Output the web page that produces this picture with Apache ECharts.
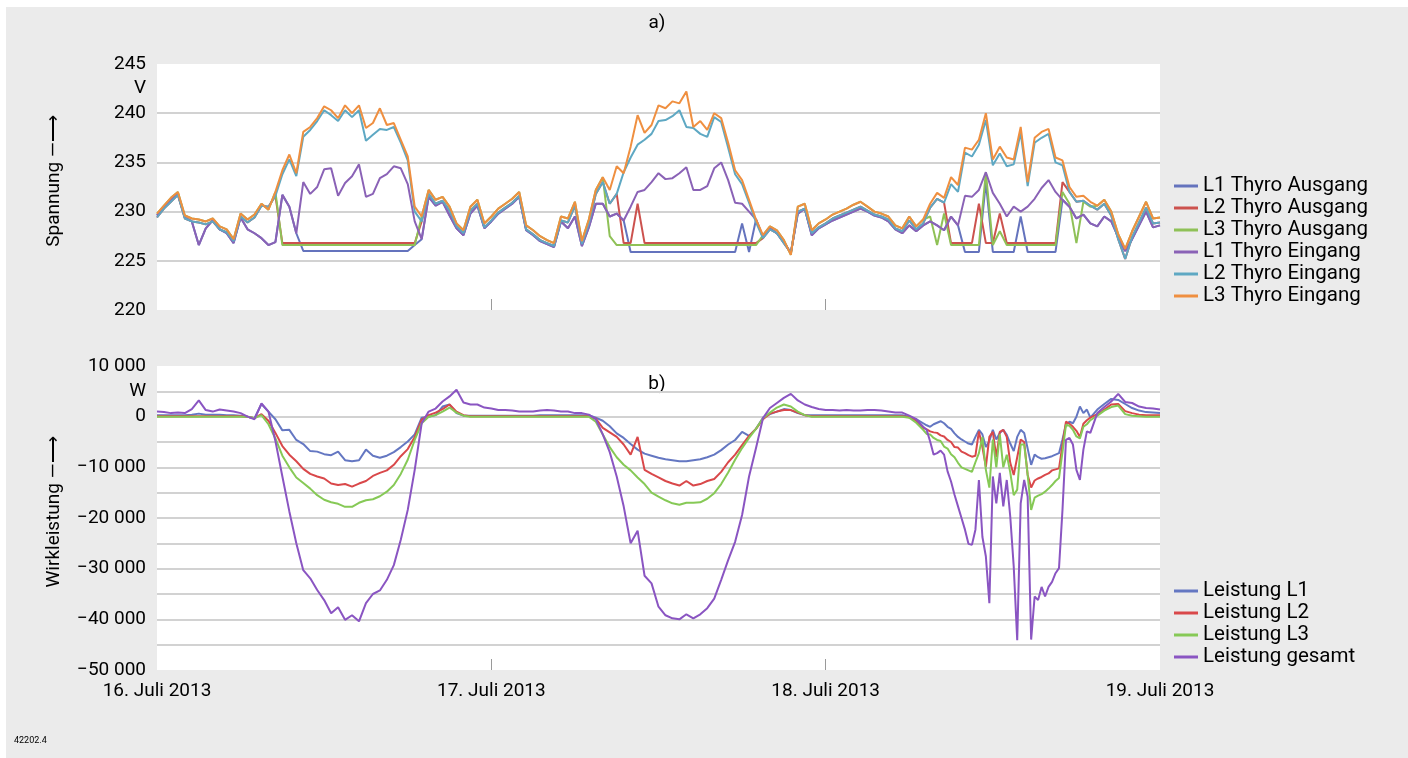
<!DOCTYPE html>
<html lang="de">
<head>
<meta charset="UTF-8">
<title>Spannung und Wirkleistung Thyro</title>
<script src="https://cdn.jsdelivr.net/npm/echarts@6/dist/echarts.min.js"></script>
<style>
  html, body { margin: 0; padding: 0; background: #fff; }
  #chart { position: absolute; left: 6px; top: 7px; width: 1402px; height: 751px; background: #ebebeb; }
</style>
</head>
<body>
<div id="chart"></div>
<script>
// time in hours since 16. Juli 2013 00:00
const dayLabels = ['16. Juli 2013', '17. Juli 2013', '18. Juli 2013', '19. Juli 2013'];

// ---- a) Spannung, every half hour ----
const tA = [
  0,0.5,1,1.5,2,2.5,3,3.5,4,4.5,5,5.5,6,6.5,7,7.5,8,8.5,9,9.5,10,10.5,11,11.5,12,12.5,13,13.5,14,14.5,15,15.5,16,16.5,17,17.5,18,18.5,19,19.5,20,20.5,21,21.5,22,22.5,23,23.5,
  24,24.5,25,25.5,26,26.5,27,27.5,28,28.5,29,29.5,30,30.5,31,31.5,32,32.5,33,33.5,34,34.5,35,35.5,36,36.5,37,37.5,38,38.5,39,39.5,40,40.5,41,41.5,42,42.5,43,43.5,44,44.5,45,45.5,46,46.5,47,47.5,
  48,48.5,49,49.5,50,50.5,51,51.5,52,52.5,53,53.5,54,54.5,55,55.5,56,56.5,57,57.5,58,58.5,59,59.5,60,60.5,61,61.5,62,62.5,63,63.5,64,64.5,65,65.5,66,66.5,67,67.5,68,68.5,69,69.5,70,70.5,71,71.5,72
];

const l1Aus = [
  229.6,230.4,231.2,231.8,229.4,229.0,226.6,228.3,229.1,228.2, 227.8,226.8,229.4,228.2,227.8,227.3,226.6,226.9,231.7,230.5, 227.8,226.0,226.0,226.0,226.0,226.0,226.0,226.0,226.0,226.0, 226.0,226.0,226.0,226.0,226.0,226.0,226.0,226.6,227.2,231.5, 230.6,231.0,229.6,228.3,227.6,229.8,230.6,228.3,
  229.0,229.8,230.3,230.8,231.5,228.1,227.6,227.0,226.7,226.4, 229.0,228.3,229.5,226.5,228.4,230.8,230.8,229.5,229.8,229.1, 225.9,225.9,225.9,225.9,225.9,225.9,225.9,225.9,225.9,225.9, 225.9,225.9,225.9,225.9,225.9,225.9,228.8,225.9,229.2,227.4, 228.3,227.8,226.9,225.8,229.8,230.3,227.6,228.3,
  228.7,229.1,229.4,229.7,230.0,230.3,230.0,229.6,229.4,229.0, 228.2,227.8,228.6,228.0,228.6,229.0,228.6,228.1,229.5,228.6, 225.9,225.9,225.9,233.0,225.9,225.9,225.9,225.9,229.5,225.9, 225.9,225.9,225.9,225.9,231.2,230.5,229.3,229.7,228.8,228.5, 229.5,229.0,227.4,226.0,227.2,228.6,230.0,228.4,228.6
];
const l2Aus = [
  229.4,230.3,231.0,231.7,229.3,229.0,228.9,228.7,229.0,228.2, 227.9,227.0,229.5,228.9,229.4,230.6,230.5,231.6,226.8,226.8, 226.8,226.8,226.8,226.8,226.8,226.8,226.8,226.8,226.8,226.8, 226.8,226.8,226.8,226.8,226.8,226.8,226.8,226.8,229.0,231.8, 230.8,231.1,230.1,228.5,227.8,230.1,230.8,228.4,
  229.1,229.9,230.4,230.9,231.6,228.2,227.7,227.1,226.8,226.5, 229.1,228.9,230.6,226.7,228.8,231.8,233.0,230.8,231.8,226.8, 226.8,230.8,226.8,226.8,226.8,226.8,226.8,226.8,226.8,226.8, 226.8,226.8,226.8,226.8,226.8,226.8,226.8,226.8,226.8,227.3, 228.2,227.8,226.8,225.8,230.0,230.3,227.8,228.4,
  228.8,229.3,229.6,229.9,230.2,230.5,230.1,229.7,229.5,229.2, 228.3,228.0,229.1,228.2,228.8,230.4,231.3,230.9,226.8,226.8, 226.8,226.8,230.8,226.8,226.8,229.8,226.8,226.8,226.8,226.8, 226.8,226.8,226.8,226.8,233.0,232.0,231.0,231.1,230.6,230.2, 230.8,229.6,227.2,225.2,227.4,228.9,230.4,228.8,228.9
];
const l3Aus = [
  229.8,230.6,231.4,232.0,229.6,229.3,229.2,229.0,229.3,228.5, 228.2,227.2,229.8,229.2,229.7,230.8,230.2,232.0,226.6,226.6, 226.6,226.6,226.6,226.6,226.6,226.6,226.6,226.6,226.6,226.6, 226.6,226.6,226.6,226.6,226.6,226.6,226.6,226.6,229.5,232.2, 231.2,231.5,230.5,228.8,228.1,230.5,231.2,228.8,
  229.5,230.3,230.8,231.3,232.0,228.6,228.1,227.5,227.1,226.8, 229.5,229.3,231.0,227.0,229.2,232.2,233.5,227.5,226.6,226.6, 226.6,226.6,226.6,226.6,226.6,226.6,226.6,226.6,226.6,226.6, 226.6,226.6,226.6,226.6,226.6,226.6,226.6,226.6,226.6,227.6, 228.5,228.1,227.1,225.6,230.5,230.8,228.1,228.8,
  229.2,229.7,230.0,230.3,230.7,231.0,230.5,230.0,229.8,229.5, 228.6,228.3,229.5,228.5,229.2,229.5,226.6,229.8,226.6,226.6, 226.6,226.6,226.6,234.0,226.6,228.0,226.6,226.6,226.6,226.6, 226.6,226.6,226.6,226.6,232.0,230.8,226.8,231.0,230.5,230.6, 231.2,230.0,227.7,226.2,228.0,229.5,231.0,229.3,229.4
];
const l1Ein = [
  229.6,230.4,231.2,231.8,229.4,229.0,226.6,228.3,229.1,228.2, 227.8,226.8,229.4,228.2,227.8,227.3,226.6,226.9,231.7,230.5, 227.8,233.0,231.8,232.5,234.3,234.4,231.6,232.9,233.6,234.8, 231.5,231.8,233.4,233.8,234.6,234.4,232.8,229.0,227.2,231.5, 230.6,231.0,229.6,228.3,227.6,229.8,230.6,228.3,
  229.0,229.8,230.3,230.8,231.5,228.1,227.6,227.0,226.7,226.4, 229.0,228.3,229.5,226.5,228.4,230.8,230.8,229.5,229.8,229.1, 230.5,232.0,232.2,233.0,233.9,233.3,233.4,233.9,234.5,232.2, 232.2,232.6,234.4,235.0,233.2,230.9,230.8,230.0,229.2,227.4, 228.3,227.8,226.9,225.8,229.8,230.3,227.6,228.3,
  228.7,229.1,229.4,229.7,230.0,230.3,230.0,229.6,229.4,229.0, 228.2,227.8,228.6,228.0,228.6,229.0,228.6,228.1,229.5,228.6, 231.6,231.5,232.2,234.0,231.9,230.8,229.5,230.5,230.0,230.5, 231.3,232.4,233.2,232.0,231.2,230.5,229.3,229.7,228.8,228.5, 229.5,229.0,227.4,226.0,227.2,228.6,230.0,228.4,228.6
];
const l2Ein = [
  229.4,230.3,231.0,231.7,229.3,229.0,228.9,228.7,229.0,228.2, 227.9,227.0,229.5,228.9,229.4,230.6,230.5,231.6,233.8,235.3, 233.6,237.6,238.3,239.2,240.3,239.8,239.2,240.3,239.6,240.3, 237.2,237.8,238.4,238.3,238.6,237.0,235.2,230.0,229.0,231.8, 230.8,231.1,230.1,228.5,227.8,230.1,230.8,228.4,
  229.1,229.9,230.4,230.9,231.6,228.2,227.7,227.1,226.8,226.5, 229.1,228.9,230.6,226.7,228.8,231.8,233.0,230.8,231.8,234.0, 235.5,236.8,237.3,237.9,239.2,239.3,239.7,240.3,238.6,238.5, 237.9,237.6,239.6,239.1,236.5,233.8,232.8,230.9,228.9,227.3, 228.2,227.8,226.8,225.8,230.0,230.3,227.8,228.4,
  228.8,229.3,229.6,229.9,230.2,230.5,230.1,229.7,229.5,229.2, 228.3,228.0,229.1,228.2,228.8,230.4,231.3,230.9,232.8,232.0, 236.0,235.6,236.8,239.3,234.7,235.9,234.6,234.8,238.0,232.6, 237.0,237.5,237.9,235.0,234.7,232.0,231.0,231.1,230.6,230.2, 230.8,229.6,227.2,225.2,227.4,228.9,230.4,228.8,228.9
];
const l3Ein = [
  229.8,230.6,231.4,232.0,229.6,229.3,229.2,229.0,229.3,228.5, 228.2,227.2,229.8,229.2,229.7,230.8,230.2,232.0,234.2,235.8, 233.9,238.1,238.6,239.5,240.7,240.3,239.5,240.8,240.0,240.8, 238.5,239.0,240.5,238.8,239.0,237.3,235.6,230.5,229.5,232.2, 231.2,231.5,230.5,228.8,228.1,230.5,231.2,228.8,
  229.5,230.3,230.8,231.3,232.0,228.6,228.1,227.5,227.1,226.8, 229.5,229.3,231.0,227.0,229.2,232.2,233.5,232.2,234.6,233.9, 236.6,239.8,238.0,238.8,240.8,240.5,241.2,241.0,242.2,238.6, 239.2,238.3,240.0,239.5,237.0,234.2,233.2,231.2,229.2,227.6, 228.5,228.1,227.1,225.6,230.5,230.8,228.1,228.8,
  229.2,229.7,230.0,230.3,230.7,231.0,230.5,230.0,229.8,229.5, 228.6,228.3,229.5,228.5,229.2,230.8,231.9,231.4,233.5,232.7, 236.5,236.3,237.3,240.0,235.3,236.6,235.5,235.3,238.6,233.0, 237.5,238.1,238.4,235.5,235.2,232.5,231.5,231.6,231.0,230.6, 231.2,230.0,227.7,226.2,228.0,229.5,231.0,229.3,229.4
];

// ---- b) Wirkleistung, half hour, quarter hour on 18. Juli daytime ----
const tB = [
  0,0.5,1,1.5,2,2.5,3,3.5,4,4.5,5,5.5,6,6.5,7,7.5,8,8.5,9,9.5,10,10.5,11,11.5,12,12.5,13,13.5,14,14.5,15,15.5,16,16.5,17,17.5,18,18.5,19,19.5,20,20.5,21,21.5,22,22.5,23,23.5,24,24.5,25,25.5,26,26.5,27,27.5,28,
  28.5,29,29.5,30,30.5,31,31.5,32,32.5,33,33.5,34,34.5,35,35.5,36,36.5,37,37.5,38,38.5,39,39.5,40,40.5,41,41.5,42,42.5,43,43.5,44,44.5,45,45.5,46,46.5,47,47.5,48,48.5,49,49.5,50,50.5,51,51.5,52,52.5,53,53.5,54,54.5,55,
  55.25,55.5,55.75,56,56.25,56.5,56.75,57,57.25,57.5,57.75,58,58.25,58.5,58.75,59,59.25,59.5,59.75,60,60.25,60.5,60.75,61,61.25,61.5,61.75,62,62.25,62.5,62.75,63,63.25,63.5,63.75,64,64.25,64.5,64.75,65,65.25,65.5,65.75,66,66.25,66.5,66.75,67,
  67.5,68,68.5,69,69.5,70,70.5,71,71.5,72
];

const pL1 = [
  300,300,300,300,300,400,600,400,400,400, 300,300,200,0,-300,2500,1000,-500,-2700,-2600, -4600,-5400,-6800,-6900,-7400,-7600,-6900,-8600,-8800,-8600, -6500,-7700,-8100,-7700,-7000,-6000,-4900,-3500,-200,0, 300,2000,2400,700,200,200,200,200,200,200, 200,200,200,200,200,300,300,
  300,300,300,300,300,300,-200,-800,-1900,-3300, -4200,-5400,-6500,-7300,-7700,-8100,-8400,-8600,-8800,-8800, -8600,-8400,-8000,-7500,-6600,-5500,-4600,-3000,-3800,-2400, -200,500,1000,1500,1300,700,300,300,300,300, 300,300,300,300,300,300,300,300,300,300, 300,0,-500,-1300,
  -1700,-2000,-1500,-1200,-900,-1300,-2000,-2400,-3300,-4000, -4500,-4900,-5300,-5500,-4000,-2600,-3500,-6000,-4800,-2600, -4500,-3200,-2600,-3600,-5300,-6800,-4000,-2600,-3200,-6300, -9500,-7500,-8000,-8300,-8200,-8000,-7800,-7500,-7200,-4500, -1500,-1000,-1300,0,2000,700,1400,-200,
  1400,2500,3500,3300,2500,1700,1200,900,800,700
];
const pL2 = [
  100,100,100,100,100,100,100,100,100,100, 100,100,100,0,-300,500,-800,-3200,-5800,-7500, -8800,-10300,-11300,-11800,-12200,-13200,-13500,-13300,-13800,-13200, -12700,-11700,-11100,-10600,-9500,-7800,-6400,-4000,-600,300, 800,1500,2400,1000,300,100,100,100,100,100, 100,100,100,100,100,100,100,
  100,100,100,100,100,100,-400,-2200,-3100,-4000, -5500,-7500,-4000,-10500,-11300,-12000,-12700,-13200,-13600,-12700, -13600,-13300,-12700,-12300,-10900,-9000,-7500,-5600,-3800,-2400, -500,600,1000,1300,1300,800,300,100,100,100, 100,100,100,100,100,100,100,100,100,100, 100,-100,-800,-2200,
  -2500,-2900,-3100,-3200,-3700,-3900,-4600,-5000,-6000,-6100, -6900,-7200,-7600,-7900,-7700,-2900,-6000,-9900,-4000,-3000, -8000,-3000,-2600,-4000,-9100,-11500,-8000,-4500,-5000,-11500, -14000,-12600,-12200,-11900,-11500,-11200,-10600,-10400,-10200,-5500, -1000,-1400,-2000,-2800,-4000,-1400,-700,-200,
  500,1400,2400,2500,1100,700,400,300,300,300
];
const pL3 = [
  0,0,0,0,0,0,0,0,0,0, 0,0,0,0,-300,300,-1500,-4300,-7700,-10000, -12000,-13100,-14200,-15500,-16400,-16900,-17200,-17800,-17800,-17000, -16500,-16300,-15700,-14800,-13500,-11300,-8500,-4600,-1300,0, 300,1000,1800,800,200,0,0,0,0,0, 0,0,0,0,0,0,0,
  0,0,0,0,0,0,-1000,-3500,-6000,-8000, -9500,-10600,-12000,-13300,-15000,-15800,-16500,-17100,-17400,-17000, -17000,-16900,-16200,-15100,-13300,-11000,-8500,-6200,-4200,-2400, -300,800,1800,2400,2000,1000,300,0,0,0, 0,0,0,0,0,0,0,0,0,0, 0,-200,-1200,-2600,
  -3400,-3500,-4200,-4600,-4800,-5900,-6300,-7400,-8000,-9100, -10000,-10300,-10600,-10900,-9000,-7200,-4000,-10500,-14000,-4500, -10000,-3500,-10000,-7500,-11000,-15500,-14400,-5500,-5500,-11500, -18400,-16000,-15600,-15300,-14800,-14200,-13500,-12700,-12100,-7000, -1600,-1800,-2600,-3900,-4300,-2000,-1500,-700,
  200,1200,1900,2200,500,200,100,0,0,0
];
const pGesamt = [
  1000,900,700,800,700,1500,3200,1300,1000,1400, 1200,1000,700,0,-500,2600,1000,-4800,-11800,-18700, -25000,-30300,-31900,-34200,-36200,-38800,-37600,-40100,-39200,-40400, -36800,-35000,-34300,-32200,-29300,-24300,-18400,-10500,-1300,1000, 1600,3000,4000,5300,2800,2400,2400,1800,1600,1300, 1300,1200,1000,1000,1000,1200,1300,
  1200,1000,1000,700,700,400,-500,-3500,-7000,-11800, -17700,-25000,-22500,-31400,-32900,-37500,-39200,-39800,-40000,-39000, -39800,-39000,-37800,-35900,-32200,-28300,-24700,-19400,-11800,-6200, -300,1700,2700,3700,4500,3200,2400,1900,1500,1300, 1300,1200,1300,1200,1200,1300,1300,1200,1000,800, 800,200,-500,-2000,
  -2600,-4900,-7500,-7200,-6700,-7500,-10800,-12800,-15400,-17700, -20000,-22300,-25100,-25300,-22300,-12500,-23700,-27600,-36800,-11800, -17100,-11100,-17700,-12500,-19700,-29600,-44100,-17100,-12500,-15800, -44000,-35500,-36200,-33600,-35500,-33600,-32600,-30900,-29900,-18400, -4600,-4200,-5500,-10500,-12500,-6500,-2900,-3200,
  700,1900,3000,4500,2900,2700,2000,1700,1600,1400
];

const FONT = 'Roboto, "Noto Sans", sans-serif';
const GRID = '#d2d2d2';
const NONE = 'rgba(0,0,0,0)';

function pairs(xs, ys) {
  return xs.map(function (x, i) { return [x, ys[i]]; });
}

function thousands(v) {
  const s = String(Math.abs(v)).replace(/\B(?=(\d{3})+(?!\d))/g, ' ');
  return (v < 0 ? '\u2212' : '') + s;
}

function line(name, xs, ys, color, idx) {
  return {
    name: name,
    type: 'line',
    xAxisIndex: idx,
    yAxisIndex: idx,
    data: pairs(xs, ys),
    showSymbol: false,
    symbol: 'none',
    lineStyle: { width: 2, color: color },
    itemStyle: { color: color },
    emphasis: { disabled: true },
    silent: true
  };
}

function xAxisFor(idx, withLabels) {
  return {
    type: 'value',
    gridIndex: idx,
    min: 0,
    max: 72,
    interval: 24,
    axisLine: { show: false, onZero: false },
    axisTick: { show: true, inside: true, length: 11, customValues: [24, 48], lineStyle: { color: '#9a9a9a', width: 1 } },
    splitLine: { show: false },
    axisLabel: {
      show: withLabels,
      margin: 12,
      color: '#000',
      fontFamily: FONT,
      fontSize: 19,
      formatter: function (v) { return dayLabels[Math.round(v / 24)]; }
    }
  };
}

function legendFor(names, top) {
  return {
    data: names,
    orient: 'vertical',
    left: 1168,
    top: top,
    padding: 0,
    itemGap: 0,
    itemWidth: 24,
    itemHeight: 3,
    icon: 'rect',
    selectedMode: false,
    textStyle: { color: '#000', fontFamily: FONT, fontSize: 20.5, lineHeight: 22 }
  };
}

let chart = echarts.init(document.getElementById('chart'));

let option = {
  animation: false,
  backgroundColor: '#ebebeb',
  textStyle: { fontFamily: FONT },
  grid: [
    { left: 151, top: 57, width: 1003, height: 246, show: true, backgroundColor: '#fff', borderWidth: 0 },
    { left: 151, top: 359, width: 1003, height: 304, show: true, backgroundColor: '#fff', borderWidth: 0 }
  ],
  xAxis: [xAxisFor(0, false), xAxisFor(1, true)],
  yAxis: [
    {
      type: 'value',
      gridIndex: 0,
      min: 220,
      max: 245,
      interval: 2.5,
      name: 'Spannung \u2014\u27F6',
      nameLocation: 'middle',
      nameRotate: 90,
      nameGap: 93,
      nameTextStyle: { color: '#000', fontFamily: FONT, fontSize: 19, padding: [0, 0, 0, 12] },
      axisLine: { show: false },
      axisTick: { show: false },
      axisLabel: {
        margin: 11,
        color: '#000',
        fontFamily: FONT,
        fontSize: 19,
        formatter: function (v) {
          if (v === 242.5) return 'V';
          return v % 5 === 0 ? String(v) : '';
        }
      },
      splitLine: {
        show: true,
        lineStyle: { width: 2, color: [NONE, NONE, GRID, NONE, GRID, NONE, GRID, NONE, GRID, NONE, NONE] }
      }
    },
    {
      type: 'value',
      gridIndex: 1,
      min: -50000,
      max: 10000,
      interval: 5000,
      name: 'Wirkleistung \u2014\u27F6',
      nameLocation: 'middle',
      nameRotate: 90,
      nameGap: 93,
      nameTextStyle: { color: '#000', fontFamily: FONT, fontSize: 19, padding: [0, 0, 0, 12] },
      axisLine: { show: false },
      axisTick: { show: false },
      axisLabel: {
        margin: 11,
        color: '#000',
        fontFamily: FONT,
        fontSize: 19,
        formatter: function (v) {
          if (v === 5000) return 'W';
          return v % 10000 === 0 ? thousands(v) : '';
        }
      },
      splitLine: {
        show: true,
        lineStyle: { width: 2, color: [NONE, GRID, GRID, GRID, GRID, GRID, GRID, GRID, GRID, GRID, GRID, GRID, NONE] }
      }
    }
  ],
  legend: [
    legendFor(['L1 Thyro Ausgang', 'L2 Thyro Ausgang', 'L3 Thyro Ausgang', 'L1 Thyro Eingang', 'L2 Thyro Eingang', 'L3 Thyro Eingang'], 168),
    legendFor(['Leistung L1', 'Leistung L2', 'Leistung L3', 'Leistung gesamt'], 573)
  ],
  graphic: [
    { type: 'text', x: 651, y: 16, style: { text: 'a)', font: '19px ' + FONT, fill: '#000', textAlign: 'center', textVerticalAlign: 'middle' } },
    { type: 'text', x: 651, y: 377, style: { text: 'b)', font: '19px ' + FONT, fill: '#000', textAlign: 'center', textVerticalAlign: 'middle' } },
    { type: 'text', x: 8, y: 734, style: { text: '42202.4', font: '9px ' + FONT, fill: '#000', textAlign: 'left', textVerticalAlign: 'middle' } }
  ],
  series: [
    line('L1 Thyro Ausgang', tA, l1Aus, '#6473bd', 0),
    line('L2 Thyro Ausgang', tA, l2Aus, '#cc524e', 0),
    line('L3 Thyro Ausgang', tA, l3Aus, '#8fc157', 0),
    line('L1 Thyro Eingang', tA, l1Ein, '#8a62b6', 0),
    line('L2 Thyro Eingang', tA, l2Ein, '#5ea8c3', 0),
    line('L3 Thyro Eingang', tA, l3Ein, '#ef8f40', 0),
    line('Leistung L1', tB, pL1, '#6477c2', 1),
    line('Leistung L2', tB, pL2, '#d9484a', 1),
    line('Leistung L3', tB, pL3, '#86c956', 1),
    line('Leistung gesamt', tB, pGesamt, '#8a55c2', 1)
  ]
};
chart.setOption(option);
</script>
</body>
</html>
